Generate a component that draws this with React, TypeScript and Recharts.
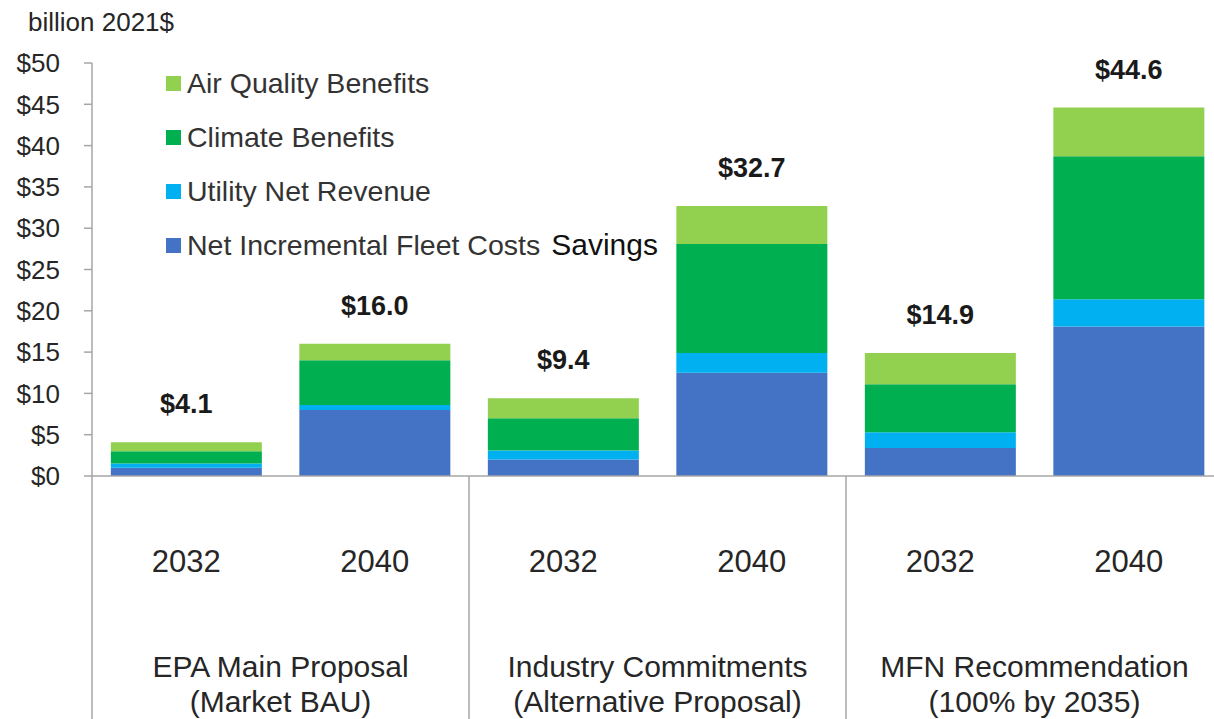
import { Bar, BarChart, LabelList, Legend, XAxis, YAxis } from "recharts";

const years = ["2032", "2040", "2032", "2040", "2032", "2040"];
const groupTitles = ["EPA Main Proposal", "Industry Commitments", "MFN Recommendation"];
const groupSubtitles = ["(Market BAU)", "(Alternative Proposal)", "(100% by 2035)"];

// billion 2021$
const fleetSavings = [1.0, 8.0, 2.0, 12.5, 3.4, 18.1];
const utilityRevenue = [0.5, 0.6, 1.1, 2.4, 1.9, 3.3];
const climateBenefits = [1.5, 5.4, 3.9, 13.2, 5.8, 17.3];
const airQuality = [1.1, 2.0, 2.4, 4.6, 3.8, 5.9];

const yTicks = [0, 5, 10, 15, 20, 25, 30, 35, 40, 45, 50];

// legend reads top-down, opposite to stacking order
const legendOrder = ["air", "climate", "utility", "fleet"];

const FONT = '"Liberation Sans", Arial, sans-serif';
const TEXT = "#262626";
const AXIS = "#a6a6a6";

const CHART_W = 1223;
const CHART_H = 719;
const Y_W = 92;
const BAND = (CHART_W - Y_W) / years.length;

const data = years.map((year, i) => ({
  id: `${i}-${year}`,
  year,
  fleet: fleetSavings[i],
  utility: utilityRevenue[i],
  climate: climateBenefits[i],
  air: airQuality[i],
}));

function CategoryTick(props: any) {
  const { x, y, index } = props;
  const half = BAND / 2;
  const g = Math.floor(index / 2);
  return (
    <g>
      <text
        x={x}
        y={y + 96}
        textAnchor="middle"
        fontSize={31}
        fontFamily={FONT}
        fill={TEXT}
      >
        {years[index]}
      </text>
      {index === 0 && (
        <line x1={x - half} x2={x - half} y1={y} y2={CHART_H} stroke={AXIS} strokeWidth={1.5} />
      )}
      {index % 2 === 1 && (
        <g fontSize={30} fontFamily={FONT} fill={TEXT} textAnchor="middle">
          <text x={x - half} y={y + 201}>
            {groupTitles[g]}
          </text>
          <text x={x - half} y={y + 236}>
            {groupSubtitles[g]}
          </text>
        </g>
      )}
      {index % 2 === 1 && index < years.length - 1 && (
        <line x1={x + half} x2={x + half} y1={y} y2={CHART_H} stroke={AXIS} strokeWidth={1.5} />
      )}
    </g>
  );
}

function TotalLabel(props: any) {
  const { x, y, width, index } = props;
  const total =
    fleetSavings[index] + utilityRevenue[index] + climateBenefits[index] + airQuality[index];
  return (
    <text
      x={Number(x) + Number(width) / 2}
      y={Number(y) - 29}
      textAnchor="middle"
      fontSize={27}
      fontWeight="bold"
      fontFamily={FONT}
      fill="#1a1a1a"
    >
      ${total.toFixed(1)}
    </text>
  );
}

function LegendBox({ payload }: { payload?: any[] }) {
  const items = [...(payload ?? [])].sort(
    (a, b) => legendOrder.indexOf(a.dataKey) - legendOrder.indexOf(b.dataKey)
  );
  return (
    <div style={{ fontFamily: FONT, fontSize: 28.5, color: "#333" }}>
      {items.map((item) => (
        <div
          key={item.value}
          style={{ display: "flex", alignItems: "center", height: 54, whiteSpace: "nowrap" }}
        >
          <span
            style={{
              width: 15,
              height: 15,
              background: item.color,
              marginRight: 6,
              display: "inline-block",
            }}
          />
          <span>
            {item.value}
            {item.dataKey === "fleet" && (
              <span style={{ color: "#111", fontSize: 30, marginLeft: 11 }}>Savings</span>
            )}
          </span>
        </div>
      ))}
    </div>
  );
}

export default function App() {
  return (
    <div
      style={{
        position: "absolute",
        left: 0,
        top: 0,
        width: 1214,
        height: 719,
        overflow: "hidden",
        background: "#fff",
      }}
    >
      <div
        style={{
          position: "absolute",
          left: 28,
          top: 9,
          fontFamily: FONT,
          fontSize: 26,
          lineHeight: "26px",
          color: TEXT,
          whiteSpace: "nowrap",
        }}
      >
        billion 2021$
      </div>
      <BarChart
        width={CHART_W}
        height={CHART_H}
        data={data}
        margin={{ top: 63, right: 0, bottom: 0, left: 0 }}
        barCategoryGap="10%"
      >
        <XAxis
          dataKey="id"
          height={CHART_H - 476}
          interval={0}
          tickLine={false}
          tickSize={0}
          tickMargin={0}
          axisLine={{ stroke: AXIS, strokeWidth: 1.5 }}
          tick={<CategoryTick />}
        />
        <YAxis
          width={Y_W}
          domain={[0, 50]}
          ticks={yTicks}
          interval={0}
          tickSize={8}
          tickMargin={24}
          axisLine={{ stroke: AXIS, strokeWidth: 1.5 }}
          tickLine={{ stroke: AXIS, strokeWidth: 1.5 }}
          tick={{ fontSize: 26, fontFamily: FONT, fill: TEXT }}
          tickFormatter={(v) => `$${v}`}
        />
        <Legend
          layout="horizontal"
          verticalAlign="middle"
          align="center"
          wrapperStyle={{ left: 166, top: 56, width: 560 }}
          content={(p: any) => <LegendBox payload={p.payload} />}
        />
        <Bar dataKey="fleet" name="Net Incremental Fleet Costs" stackId="a" fill="#4472c4" isAnimationActive={false} />
        <Bar dataKey="utility" name="Utility Net Revenue" stackId="a" fill="#00b0f0" isAnimationActive={false} />
        <Bar dataKey="climate" name="Climate Benefits" stackId="a" fill="#00b050" isAnimationActive={false} />
        <Bar dataKey="air" name="Air Quality Benefits" stackId="a" fill="#92d050" isAnimationActive={false}>
          <LabelList dataKey="air" content={<TotalLabel />} />
        </Bar>
      </BarChart>
    </div>
  );
}
